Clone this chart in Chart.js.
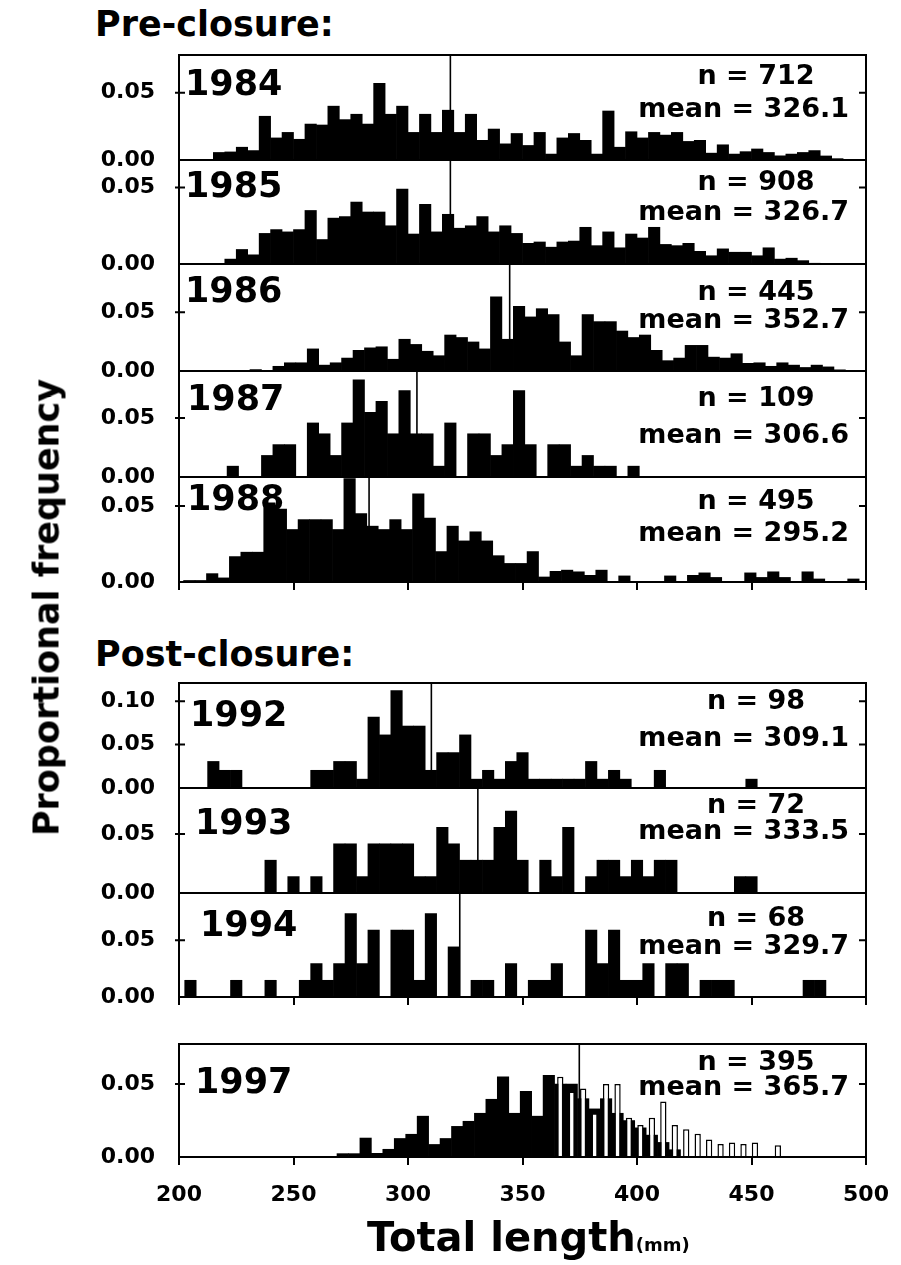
<!DOCTYPE html>
<html>
<head>
<meta charset="utf-8">
<script src="https://cdn.jsdelivr.net/npm/chart.js@4.4.1/dist/chart.umd.min.js"></script>
<style>
html,body{margin:0;padding:0;background:#fff;}
body{width:901px;height:1265px;position:relative;overflow:hidden;font-family:"DejaVu Sans",sans-serif;font-weight:bold;color:#000;}
.lbl{position:absolute;white-space:nowrap;line-height:1;}
canvas.panel{position:absolute;left:0;}
</style>
</head>
<body>
<script>
// ---------------- data ----------------
const years = ['1984', '1985', '1986', '1987', '1988', '1992', '1993', '1994', '1997'];
const sampleSizes = ['712', '908', '445', '109', '495', '98', '72', '68', '395'];
const meanLengths = ['326.1', '326.7', '352.7', '306.6', '295.2', '309.1', '333.5', '329.7', '365.7'];
const meanLinePositions = [318.5, 318.5, 344.4, 303.9, 283, 310.2, 330.5, 322.6, 374.8];
const firstBinEdges = [215, 220, 231, 221, 202, 212.5, 237.5, 202.5, 269];
const binWidth = 5;
const yAxisMax = [0.078, 0.068, 0.091, 0.09, 0.069, 0.121, 0.089, 0.0915, 0.0775];
const xTickValues = [200, 250, 300, 350, 400, 450, 500];
const yTickValues = [0, 0.05];
const yTickValues1992 = [0, 0.05, 0.10];

const freq1984 = [0.0056, 0.006, 0.0095, 0.007, 0.0325, 0.0164, 0.0205, 0.0154, 0.0267, 0.026,
  0.040, 0.030, 0.034, 0.0267, 0.057, 0.034, 0.040, 0.0205, 0.034, 0.0205,
  0.037, 0.0205, 0.034, 0.0146, 0.023, 0.012, 0.0197, 0.0108, 0.0205, 0.0044,
  0.0164, 0.0197, 0.0146, 0.0044, 0.0364, 0.0095, 0.021, 0.0164, 0.0205, 0.0185,
  0.0205, 0.0138, 0.0146, 0.0051, 0.0113, 0.0044, 0.0062, 0.0082, 0.0056, 0.0031,
  0.0044, 0.0056, 0.007, 0.003, 0.001];
const freq1985 = [0.0032, 0.0095, 0.006, 0.020, 0.0225, 0.021, 0.0225, 0.035, 0.016, 0.030,
  0.031, 0.0405, 0.034, 0.034, 0.025, 0.049, 0.0196, 0.039, 0.021, 0.0325,
  0.0234, 0.025, 0.031, 0.021, 0.025, 0.020, 0.0135, 0.0144, 0.011, 0.0144,
  0.015, 0.024, 0.012, 0.021, 0.0106, 0.0196, 0.017, 0.024, 0.0128, 0.012,
  0.0135, 0.0083, 0.0054, 0.0099, 0.0077, 0.0077, 0.0054, 0.0106, 0.0032, 0.0038,
  0.0022, 0.0005];
const freq1986 = [0.0012, 0, 0.004, 0.007, 0.007, 0.0188, 0.005, 0.007, 0.011, 0.0176,
  0.0197, 0.0206, 0.010, 0.027, 0.0226, 0.0168, 0.013, 0.0306, 0.0285, 0.0247,
  0.0188, 0.063, 0.027, 0.055, 0.046, 0.053, 0.048, 0.0247, 0.013, 0.048,
  0.042, 0.042, 0.034, 0.0285, 0.0306, 0.0176, 0.0088, 0.011, 0.0218, 0.0218,
  0.0118, 0.011, 0.0147, 0.0065, 0.007, 0.004, 0.007, 0.005, 0.003, 0.005,
  0.0035, 0.001];
const freq1987 = [0.0092, 0, 0, 0.0183, 0.0275, 0.0275, 0, 0.0459, 0.0367, 0.0183,
  0.0459, 0.0826, 0.055, 0.0642, 0.0367, 0.0734, 0.0367, 0.0367, 0.0092, 0.0459,
  0, 0.0367, 0.0367, 0.0183, 0.0275, 0.0734, 0.0275, 0, 0.0275, 0.0275,
  0.0092, 0.0183, 0.0092, 0.0092, 0, 0.0092];
const freq1988 = [0.001, 0.001, 0.0055, 0.0027, 0.0167, 0.0196, 0.0196, 0.052, 0.048, 0.0345,
  0.041, 0.041, 0.041, 0.0345, 0.068, 0.045, 0.0367, 0.0345, 0.041, 0.0345,
  0.058, 0.042, 0.020, 0.0367, 0.027, 0.033, 0.027, 0.0173, 0.0122, 0.0122,
  0.020, 0.0033, 0.007, 0.0078, 0.0067, 0.0044, 0.0078, 0, 0.004, 0,
  0, 0, 0.004, 0, 0.0044, 0.006, 0.003, 0, 0, 0.006,
  0.003, 0.0067, 0.003, 0, 0.0067, 0.002, 0, 0, 0.002];
const freq1992 = [0.0306, 0.0204, 0.0204, 0, 0, 0, 0, 0, 0, 0.0204,
  0.0204, 0.0306, 0.0306, 0.0102, 0.0816, 0.0612, 0.1122, 0.0714, 0.0714, 0.0204,
  0.0408, 0.0408, 0.0612, 0.0102, 0.0204, 0.0102, 0.0306, 0.0408, 0.0102, 0.0102,
  0.0102, 0.0102, 0.0102, 0.0306, 0.0102, 0.0204, 0.0102, 0, 0, 0.0204,
  0, 0, 0, 0, 0, 0, 0, 0.0102];
const freq1993 = [0.0278, 0, 0.0139, 0, 0.0139, 0, 0.0417, 0.0417, 0.0139, 0.0417,
  0.0417, 0.0417, 0.0417, 0.0139, 0.0139, 0.0556, 0.0417, 0.0278, 0.0278, 0.0278,
  0.0556, 0.0694, 0.0278, 0, 0.0278, 0.0139, 0.0556, 0, 0.0139, 0.0278,
  0.0278, 0.0139, 0.0278, 0.0139, 0.0278, 0.0278, 0, 0, 0, 0,
  0, 0.0139, 0.0139];
const freq1994 = [0.0147, 0, 0, 0, 0.0147, 0, 0, 0.0147, 0, 0,
  0.0147, 0.0294, 0.0147, 0.0294, 0.0735, 0.0294, 0.0588, 0, 0.0588, 0.0588,
  0.0147, 0.0735, 0, 0.0441, 0, 0.0147, 0.0147, 0, 0.0294, 0,
  0.0147, 0.0147, 0.0294, 0, 0, 0.0588, 0.0294, 0.0588, 0.0147, 0.0147,
  0.0294, 0, 0.0294, 0.0294, 0, 0.0147, 0.0147, 0.0147, 0, 0,
  0, 0, 0, 0, 0.0147, 0.0147];
const freq1997 = [0.0023, 0.0023, 0.013, 0.0025, 0.0053, 0.0127, 0.0156, 0.028, 0.0086, 0.0127,
  0.021, 0.0245, 0.030, 0.0396, 0.055, 0.030, 0.045, 0.028, 0.056, 0.050,
  0.050, 0.040, 0.033, 0.040, 0.030, 0.025, 0.020, 0.015, 0.010, 0.005];
const hollowFirstBinEdge1997 = 364;
const hollow1997 = [0.055, 0.045, 0.047, 0.030, 0.050, 0.050, 0.027, 0.022, 0.027, 0.038,
  0.022, 0.019, 0.016, 0.012, 0.009, 0.010, 0.009, 0.010, 0, 0.008];

const panelFreqs = [freq1984, freq1985, freq1986, freq1987, freq1988, freq1992, freq1993, freq1994, freq1997];

// ---------------- layout ----------------
const W = 901;
const plotLeft = 179;
const plotRightPad = 35;
const panelTops = [55, 160, 264, 371, 477, 683, 788, 893, 1044];
const panelBottoms = [160, 264, 371, 477, 582, 788, 893, 997, 1157];
const yearLeft = [185, 185, 185, 187, 187, 190, 195, 200, 195];
const yearCenterY = [83, 185, 290, 398, 498, 714, 822, 924, 1081];
const nCenterY = [74, 180, 290, 396, 499, 699, 803, 916, 1060];
const meanCenterY = [107, 210, 318, 433, 531, 736, 829, 944, 1085];
const showXTickMarks = [false, false, false, false, true, false, false, true, true];
const FONT = '"DejaVu Sans", sans-serif';

function addLabel(text, x, cy, size, align) {
  const d = document.createElement('div');
  d.className = 'lbl';
  d.textContent = text;
  d.style.fontSize = size + 'px';
  d.style.top = (cy - 0.4815 * size) + 'px';
  if (align === 'left') d.style.left = x + 'px';
  else if (align === 'right') d.style.right = (W - x) + 'px';
  else { d.style.left = (x - 300) + 'px'; d.style.width = '600px'; d.style.textAlign = 'center'; }
  document.body.appendChild(d);
  return d;
}

const framePlugin = {
  id: 'frame',
  afterDatasetsDraw(chart) {
    const {ctx, chartArea: a, scales} = chart;
    ctx.save();
    ctx.strokeStyle = '#000';
    ctx.lineWidth = 2;
    ctx.strokeRect(a.left, a.top, a.right - a.left, a.bottom - a.top);
    const ys = scales.y;
    ys.ticks.forEach(t => {
      const py = ys.getPixelForValue(t.value);
      if (py > a.bottom - 2) return;
      ctx.beginPath();
      ctx.moveTo(a.left - 4, py); ctx.lineTo(a.left + 6, py);
      ctx.moveTo(a.right, py); ctx.lineTo(a.right - 7, py);
      ctx.stroke();
    });
    ctx.restore();
  }
};

function binPoints(first, values) {
  return values.map((v, k) => ({x: first + binWidth * (k + 0.5), y: v}));
}

const padTop = 4;
years.forEach((yr, i) => {
  const last = i === years.length - 1;
  const xh = last ? 62 : 14;
  const c = document.createElement('canvas');
  c.className = 'panel';
  c.width = W;
  c.height = panelBottoms[i] - panelTops[i] + padTop + xh;
  c.style.top = (panelTops[i] - padTop) + 'px';
  c.style.width = W + 'px';
  c.style.height = c.height + 'px';
  document.body.appendChild(c);

  const datasets = [
    {type: 'line', data: [{x: meanLinePositions[i], y: 0}, {x: meanLinePositions[i], y: yAxisMax[i]}],
     borderColor: '#000', borderWidth: 1.6, pointRadius: 0, order: 0},
    {type: 'bar', data: binPoints(firstBinEdges[i], panelFreqs[i]), backgroundColor: '#000',
     borderWidth: 0, grouped: false, barPercentage: 1, categoryPercentage: 1, order: 3}
  ];
  if (last) {
    datasets.push({type: 'bar', data: binPoints(hollowFirstBinEdge1997, hollow1997),
      backgroundColor: '#fff', borderColor: '#000', borderWidth: 1.5,
      grouped: false, barPercentage: 0.55, categoryPercentage: 1, order: 2});
  }
  const yTicks = yr === '1992' ? yTickValues1992 : yTickValues;
  const tickFont = {family: FONT, weight: 'bold', size: 22};

  new Chart(c, {
    type: 'bar',
    data: {datasets},
    options: {
      responsive: false,
      animation: false,
      devicePixelRatio: 1,
      events: [],
      layout: {padding: {top: padTop, right: plotRightPad, left: 0, bottom: 0}},
      plugins: {legend: {display: false}, tooltip: {enabled: false}},
      scales: {
        x: {
          type: 'linear', min: 200, max: 500, offset: false,
          afterBuildTicks: s => { s.ticks = xTickValues.map(v => ({value: v})); },
          afterFit: s => { s.height = xh; s.paddingLeft = 0; s.paddingRight = 0; },
          border: {display: false},
          grid: {offset: false, drawOnChartArea: false, drawTicks: showXTickMarks[i], tickLength: 8, color: '#000', lineWidth: 2},
          ticks: {display: last, font: tickFont, color: '#000', padding: 17, maxRotation: 0, autoSkip: false}
        },
        y: {
          min: 0, max: yAxisMax[i],
          afterBuildTicks: s => { s.ticks = yTicks.map(v => ({value: v})); },
          afterFit: s => { s.width = plotLeft; s.paddingTop = 0; s.paddingBottom = 0; },
          border: {display: false},
          grid: {drawOnChartArea: false, drawTicks: false},
          ticks: {font: tickFont, color: '#000', padding: 24, callback: v => Number(v).toFixed(2)}
        }
      }
    },
    plugins: [framePlugin]
  });

  addLabel(yr, yearLeft[i], yearCenterY[i], 35, 'left');
  addLabel('n = ' + sampleSizes[i], 756, nCenterY[i], 27, 'center');
  addLabel('mean = ' + meanLengths[i], 849, meanCenterY[i], 27, 'right');
});

addLabel('Pre-closure:', 95, 24, 35, 'left');
addLabel('Post-closure:', 95, 654, 35, 'left');
const yt = addLabel('Proportional frequency', 47, 607, 35, 'center');
yt.style.top = (607 - 17.5) + 'px';
yt.style.transform = 'rotate(-90deg)';
const xt = document.createElement('div');
xt.className = 'lbl';
xt.style.left = '367px';
xt.style.top = (1251 - 0.846 * 40) + 'px';
xt.style.fontSize = '40px';
xt.innerHTML = 'Total length<span style="font-size:18px">(mm)</span>';
document.body.appendChild(xt);
</script>
</body>
</html>
